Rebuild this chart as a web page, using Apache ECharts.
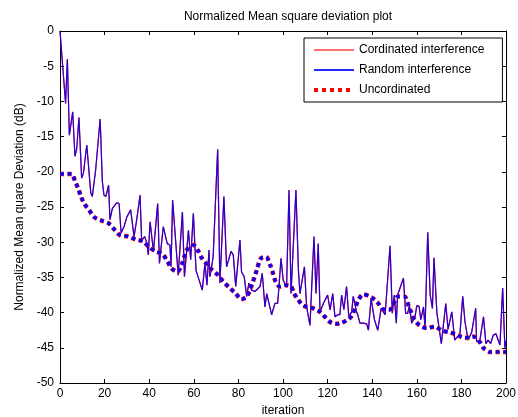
<!DOCTYPE html>
<html>
<head>
<meta charset="utf-8">
<script src="https://cdn.jsdelivr.net/npm/echarts@6/dist/echarts.min.js"></script>
<style>
html,body{margin:0;padding:0;background:#fff;}
#c{width:518px;height:417px;}
</style>
</head>
<body>
<div id="c"></div>
<script>
// Noisy curve (Cordinated / Random interference overlap) – vertices
const noisyIter = [0,2.5,3.3,4.2,5.7,6.7,7.5,8.5,9.7,10.5,12,13.8,14.5,16,18,19,19.7,20.6,21.8,22.4,23.5,25.4,26.5,27.4,28.7,30,31.7,33.2,34.4,35.9,36.6,38,39,39.6,40.4,41.9,43.8,44.6,46.3,48.1,49.3,49.8,50.5,53,54.9,55.8,57.6,58.6,59.8,61,63.8,65,65.9,66.8,67.2,68,68.7,70.7,71.7,73.5,74.7,75.5,76.7,77.7,78.8,80.7,81.4,82.6,83.7,84.7,85.9,87.4,89.7,90.7,91.9,92.7,94.9,96.4,97.6,98.2,99.1,100.1,101.6,102.7,103.6,105.8,106.9,107.6,109.6,110.6,112.1,113.9,114.8,115.8,116.6,118.1,120,121.1,122.3,123.3,124.5,125.5,126.3,127.3,128.5,129.5,130.8,131.5,133,133.5,134.5,136,137.5,138.3,139.5,141,142.5,144,145,145.8,148,149,149.9,150.8,151.4,154,155,155.9,156.7,157.7,159.2,160,161,161.8,163,163.7,164.9,166,167,167.7,169,169.7,171,173,174,175.7,177,178,179.3,180.6,181.6,183,184.6,186.4,186.8,188.3,189.9,191,192,193.1,194.3,195.5,196.5,197.3,198.5,199.5,200];
const noisyDb = [0,-10.3,-4,-14.8,-11.5,-17.8,-16.7,-12.3,-20.9,-20.2,-16.2,-23,-23.5,-19.7,-12.5,-21.4,-23.3,-23.5,-21.9,-26.8,-25.2,-24.4,-24.5,-28.7,-27.8,-26.4,-25.4,-29.2,-26.8,-23.3,-29.7,-29.2,-30.2,-31.8,-27.1,-31.3,-24.5,-33,-27.8,-30.2,-30.4,-33.5,-24,-34.7,-25.7,-34.9,-28.3,-32.5,-25.9,-34,-36.8,-33,-36.1,-31.1,-34.9,-33.5,-32,-16.8,-35.8,-23.5,-33.5,-33.3,-31.3,-31.8,-36.3,-29.7,-34.2,-34.9,-37.7,-35.8,-36.8,-37,-36.3,-34.4,-39.2,-37.3,-40.3,-38.7,-38.7,-36.3,-32.3,-35.4,-36.3,-22.6,-37.3,-22.6,-33.9,-37.3,-33.5,-39.2,-41.8,-29.2,-37.3,-30.2,-39.9,-38.7,-37.5,-39.6,-37.3,-40.6,-40.3,-40.3,-37.5,-39.6,-36.3,-40.6,-39.9,-37.7,-39.9,-40.3,-41.5,-41.5,-41.6,-42.5,-38,-41,-42.5,-39.4,-39.9,-40.3,-30.5,-40.1,-37.5,-41.5,-37.5,-35.1,-40.1,-40.1,-39,-41.5,-40.6,-39,-39.1,-41,-39.2,-42.2,-28.6,-37.5,-39.4,-32.2,-40,-40.1,-44.4,-38.7,-42.4,-39.9,-43.9,-43.5,-43.2,-37.7,-41.3,-43.9,-42.8,-39.4,-44.1,-43.9,-40.6,-44.4,-43.9,-44.4,-43.2,-43,-43.9,-44.6,-36.5,-45,-44];

// Uncordinated smooth curve
const uncoordIter = [0,1.5,5.2,6.7,8.2,9.3,10.8,13,15.2,18.4,21.7,24.4,26.9,30.6,33.9,37.4,40,42.9,46,48.3,50,52.6,54.6,55.8,57.1,59.8,61.7,63.5,65.8,68,71,73.2,75.8,78.8,81.4,84,86.2,88.2,90.1,92.4,94.2,95.6,96.7,98.6,100.9,103.6,105,106.9,108.4,110.6,113.6,116.6,118.8,121,123.6,125.8,128.5,130.5,132.3,133.8,136,139.5,142.5,144.7,147.7,151.7,154.4,156.2,157.4,158.9,161.2,164.4,168,171.6,174.9,178.1,181.6,185.3,188.3,190.1,192.8,195.8,200];
const uncoordDb = [-20.3,-20.3,-20.3,-21.3,-22.4,-23.4,-24.5,-25.4,-26.4,-26.9,-27.3,-28.2,-29,-29.2,-29.6,-29.9,-30.7,-31.3,-31.7,-32.8,-33.7,-34.2,-33.2,-32,-31,-30.4,-31.1,-32.2,-33.1,-33.9,-34.7,-35.6,-36.4,-37.3,-38.1,-37.6,-35.9,-34,-32.3,-32.1,-33.2,-34.5,-35.6,-36.3,-36.1,-36.3,-37.3,-38.2,-38.8,-39.2,-39.4,-39.9,-40.6,-41.3,-41.6,-41.5,-41.1,-40.6,-39.4,-38.2,-37.4,-37.8,-38.6,-39.5,-39.6,-37.7,-37.7,-38.9,-39.9,-41,-41.8,-42.2,-42,-42.6,-42.8,-43.2,-43.6,-43.4,-44.2,-45.1,-45.6,-45.6,-45.6];

const seriesNames = ['Cordinated interference','Random interference','Uncordinated'];
const xTicks = {min:0, max:200, interval:20};
const yTicks = {min:-50, max:0, interval:5};

const noisy = noisyIter.map((x,i)=>[x,noisyDb[i]]);
const uncoord = uncoordIter.map((x,i)=>[x,uncoordDb[i]]);

const FONT = 'Liberation Sans, Arial, sans-serif';
const chart = echarts.init(document.getElementById('c'), null, {renderer:'canvas'});
const axCommon = {
  axisLine:{show:true, onZero:false, lineStyle:{color:'#000', width:1}},
  axisTick:{show:true, inside:true, length:4, lineStyle:{color:'#000'}},
  splitLine:{show:false}
};
chart.setOption({
  animation:false,
  backgroundColor:'#fff',
  title:{text:'Normalized Mean square deviation plot', left:283, textAlign:'center', top:6,
    textStyle:{fontFamily:FONT, fontSize:12, fontWeight:'normal', color:'#000'}},
  grid:{left:60, top:31, right:12, bottom:34, containLabel:false, outerBoundsMode:'none'},
  legend:{
    data:[
      {name:seriesNames[0], lineStyle:{color:'#ff7070'}},
      seriesNames[1],
      {name:seriesNames[2], lineStyle:{color:'#ff0000', width:4, type:[4,4]}}
    ],
    orient:'vertical', left:304, top:38,
    padding:[5,18,5,8], itemGap:6, itemWidth:40, itemHeight:14,
    itemStyle:{opacity:0},
    borderColor:'#000', borderWidth:1, backgroundColor:'#fff',
    textStyle:{fontFamily:FONT, fontSize:12, color:'#000', lineHeight:14}
  },
  xAxis:[
    Object.assign({type:'value', position:'bottom', min:xTicks.min, max:xTicks.max, interval:xTicks.interval,
      name:'iteration', nameLocation:'middle', nameGap:20,
      nameTextStyle:{fontFamily:FONT, fontSize:12, color:'#000'},
      axisLabel:{fontFamily:FONT, fontSize:12, color:'#000', margin:5}}, axCommon),
    Object.assign({type:'value', position:'top', min:xTicks.min, max:xTicks.max, interval:xTicks.interval,
      axisLabel:{show:false}}, axCommon)
  ],
  yAxis:[
    Object.assign({type:'value', position:'left', min:yTicks.min, max:yTicks.max, interval:yTicks.interval,
      name:'Normalized Mean quare Deviation (dB)', nameLocation:'middle', nameGap:30, nameRotate:90,
      nameTextStyle:{fontFamily:FONT, fontSize:12, color:'#000'},
      axisLabel:{fontFamily:FONT, fontSize:12, color:'#000', margin:6}}, axCommon),
    Object.assign({type:'value', position:'right', min:yTicks.min, max:yTicks.max, interval:yTicks.interval,
      axisLabel:{show:false}}, axCommon)
  ],
  series:[
    {name:seriesNames[0], type:'line', data:noisy, symbol:'none', z:2,
      itemStyle:{color:'#ff6060'},
      lineStyle:{color:'#ff0000', width:1.2}},
    {name:seriesNames[1], type:'line', data:noisy, symbol:'none', z:3,
      itemStyle:{color:'#0000ff'},
      lineStyle:{color:'#0000ff', width:1.2, opacity:0.85}},
    {name:seriesNames[2], type:'line', data:uncoord, symbol:'none', smooth:0.3, z:4,
      itemStyle:{color:'#ff0000'},
      lineStyle:{color:'#ff0000', width:4.5, type:[4,3.5], cap:'butt'}},
    {name:'_uncoordOverlay', type:'line', data:uncoord, symbol:'none', smooth:0.3, z:5,
      lineStyle:{color:'#0000ff', width:3.2, type:[4,3.5], cap:'butt'}}
  ]
});
</script>
</body>
</html>
